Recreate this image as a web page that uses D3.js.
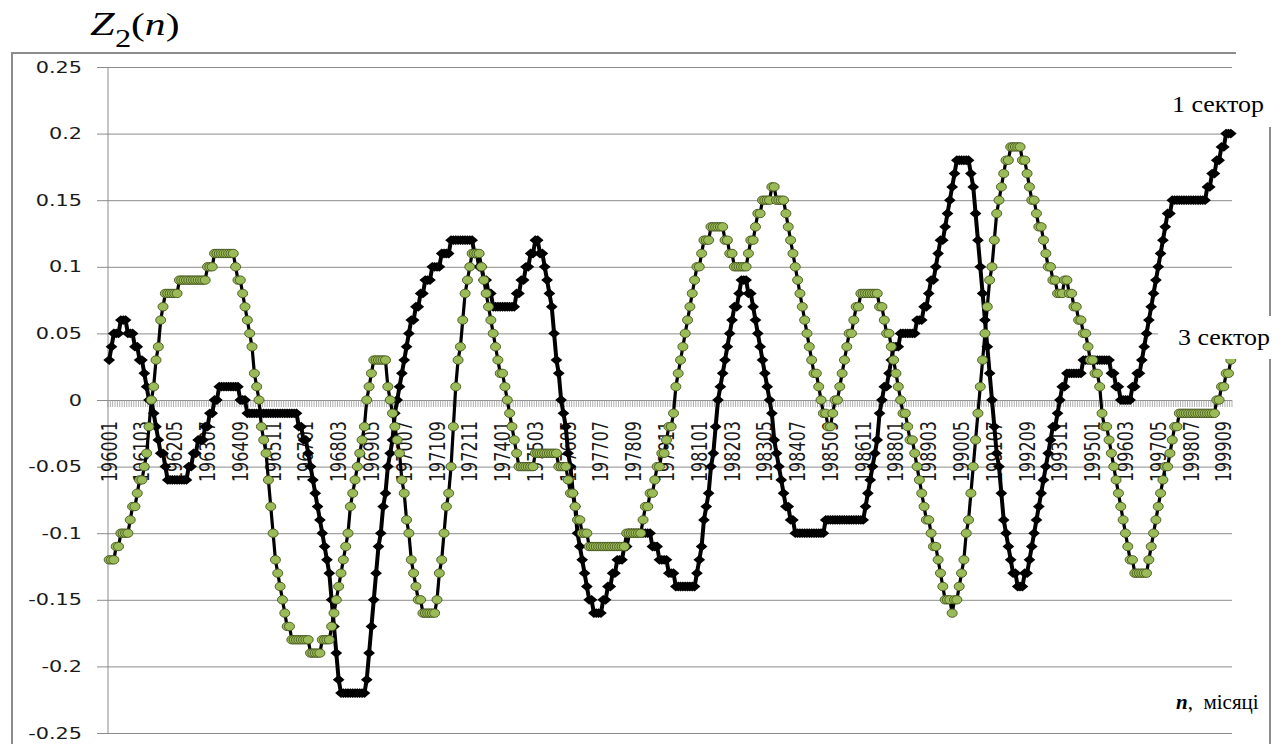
<!DOCTYPE html>
<html>
<head>
<meta charset="utf-8">
<script src="https://cdn.jsdelivr.net/npm/d3@7"></script>
<style>
  body { margin: 0; background: #fff; position: relative; }
  svg { display: block; }
</style>
</head>
<body>
<script>
// monthly categories 196001 .. 199912
const months = [];
for (let yr = 1960; yr <= 1999; yr++)
  for (let m = 1; m <= 12; m++) months.push(String(yr) + (m < 10 ? "0" + m : m));

// every 14th month is labelled
const tickLabels = ["196001", "196103", "196205", "196307", "196409", "196511", "196701",
  "196803", "196905", "197007", "197109", "197211", "197401", "197503", "197605", "197707",
  "197809", "197911", "198101", "198203", "198305", "198407", "198509", "198611", "198801",
  "198903", "199005", "199107", "199209", "199311", "199501", "199603", "199705", "199807", "199909"];

const yTicks = [0.25, 0.2, 0.15, 0.1, 0.05, 0, -0.05, -0.1, -0.15, -0.2, -0.25];

// 1 сектор (black diamonds), one row per year
const sector1 = [
  0.03, 0.04, 0.05, 0.05, 0.05, 0.06, 0.06, 0.06, 0.05, 0.05, 0.05, 0.04,
  0.04, 0.03, 0.03, 0.02, 0.01, 0.00, 0.00, -0.01, -0.02, -0.03, -0.04, -0.04,
  -0.05, -0.06, -0.06, -0.06, -0.06, -0.06, -0.06, -0.06, -0.06, -0.06, -0.05, -0.05,
  -0.04, -0.04, -0.03, -0.03, -0.03, -0.02, -0.02, -0.01, -0.01, 0.00, 0.00, 0.01,
  0.01, 0.01, 0.01, 0.01, 0.01, 0.01, 0.01, 0.01, 0.00, 0.00, 0.00, -0.01,
  -0.01, -0.01, -0.01, -0.01, -0.01, -0.01, -0.01, -0.01, -0.01, -0.01, -0.01, -0.01,
  -0.01, -0.01, -0.01, -0.01, -0.01, -0.01, -0.01, -0.01, -0.01, -0.02, -0.02, -0.03,
  -0.03, -0.04, -0.05, -0.06, -0.07, -0.08, -0.09, -0.10, -0.11, -0.12, -0.13, -0.15,
  -0.17, -0.19, -0.21, -0.22, -0.22, -0.22, -0.22, -0.22, -0.22, -0.22, -0.22, -0.22,
  -0.22, -0.22, -0.21, -0.19, -0.17, -0.15, -0.13, -0.11, -0.10, -0.08, -0.07, -0.05,
  -0.04, -0.03, -0.01, 0.00, 0.01, 0.02, 0.03, 0.04, 0.05, 0.06, 0.06, 0.07,
  0.07, 0.08, 0.08, 0.09, 0.09, 0.09, 0.10, 0.10, 0.10, 0.10, 0.11, 0.11,
  0.11, 0.11, 0.12, 0.12, 0.12, 0.12, 0.12, 0.12, 0.12, 0.12, 0.12, 0.12,
  0.11, 0.11, 0.10, 0.10, 0.09, 0.09, 0.08, 0.08, 0.07, 0.07, 0.07, 0.07,
  0.07, 0.07, 0.07, 0.07, 0.07, 0.07, 0.08, 0.08, 0.09, 0.09, 0.10, 0.10,
  0.11, 0.11, 0.12, 0.12, 0.11, 0.11, 0.10, 0.09, 0.08, 0.07, 0.05, 0.03,
  0.02, 0.00, -0.01, -0.02, -0.04, -0.05, -0.07, -0.08, -0.10, -0.11, -0.12, -0.13,
  -0.14, -0.15, -0.15, -0.16, -0.16, -0.16, -0.16, -0.15, -0.15, -0.14, -0.14, -0.13,
  -0.13, -0.12, -0.12, -0.12, -0.11, -0.11, -0.10, -0.10, -0.10, -0.10, -0.10, -0.10,
  -0.10, -0.10, -0.10, -0.10, -0.11, -0.11, -0.11, -0.12, -0.12, -0.12, -0.12, -0.13,
  -0.13, -0.13, -0.14, -0.14, -0.14, -0.14, -0.14, -0.14, -0.14, -0.14, -0.14, -0.13,
  -0.12, -0.11, -0.09, -0.08, -0.07, -0.05, -0.04, -0.02, 0.00, 0.01, 0.02, 0.03,
  0.04, 0.05, 0.06, 0.07, 0.07, 0.08, 0.09, 0.09, 0.09, 0.08, 0.08, 0.07,
  0.06, 0.05, 0.04, 0.03, 0.02, 0.01, 0.00, -0.01, -0.03, -0.04, -0.05, -0.06,
  -0.07, -0.08, -0.08, -0.09, -0.09, -0.10, -0.10, -0.10, -0.10, -0.10, -0.10, -0.10,
  -0.10, -0.10, -0.10, -0.10, -0.10, -0.10, -0.09, -0.09, -0.09, -0.09, -0.09, -0.09,
  -0.09, -0.09, -0.09, -0.09, -0.09, -0.09, -0.09, -0.09, -0.09, -0.09, -0.09, -0.08,
  -0.07, -0.06, -0.05, -0.04, -0.03, -0.01, 0.00, 0.01, 0.01, 0.02, 0.03, 0.04,
  0.04, 0.04, 0.05, 0.05, 0.05, 0.05, 0.05, 0.05, 0.05, 0.06, 0.06, 0.06,
  0.07, 0.07, 0.08, 0.09, 0.09, 0.10, 0.11, 0.12, 0.12, 0.13, 0.14, 0.15,
  0.16, 0.17, 0.18, 0.18, 0.18, 0.18, 0.18, 0.18, 0.17, 0.16, 0.14, 0.12,
  0.10, 0.08, 0.06, 0.04, 0.02, 0.00, -0.02, -0.04, -0.05, -0.07, -0.09, -0.10,
  -0.11, -0.12, -0.13, -0.13, -0.14, -0.14, -0.14, -0.13, -0.13, -0.12, -0.11, -0.10,
  -0.09, -0.08, -0.07, -0.06, -0.05, -0.04, -0.03, -0.02, -0.02, -0.01, 0.00, 0.01,
  0.01, 0.02, 0.02, 0.02, 0.02, 0.02, 0.02, 0.02, 0.03, 0.03, 0.03, 0.03,
  0.03, 0.03, 0.03, 0.03, 0.03, 0.03, 0.03, 0.03, 0.02, 0.02, 0.01, 0.01,
  0.00, 0.00, 0.00, 0.00, 0.00, 0.01, 0.01, 0.02, 0.02, 0.03, 0.04, 0.05,
  0.06, 0.07, 0.08, 0.09, 0.10, 0.11, 0.12, 0.13, 0.14, 0.14, 0.15, 0.15,
  0.15, 0.15, 0.15, 0.15, 0.15, 0.15, 0.15, 0.15, 0.15, 0.15, 0.15, 0.15,
  0.15, 0.16, 0.16, 0.17, 0.17, 0.18, 0.18, 0.19, 0.19, 0.20, 0.20, 0.20
];

// 3 сектор (green circles), one row per year
const sector3 = [
  -0.12, -0.12, -0.12, -0.11, -0.11, -0.10, -0.10, -0.10, -0.10, -0.09, -0.08, -0.08,
  -0.07, -0.06, -0.06, -0.05, -0.04, -0.02, 0.00, 0.01, 0.03, 0.04, 0.06, 0.07,
  0.08, 0.08, 0.08, 0.08, 0.08, 0.08, 0.09, 0.09, 0.09, 0.09, 0.09, 0.09,
  0.09, 0.09, 0.09, 0.09, 0.09, 0.09, 0.10, 0.10, 0.10, 0.11, 0.11, 0.11,
  0.11, 0.11, 0.11, 0.11, 0.11, 0.11, 0.10, 0.09, 0.09, 0.08, 0.07, 0.06,
  0.05, 0.04, 0.02, 0.01, 0.00, -0.02, -0.03, -0.04, -0.06, -0.08, -0.10, -0.12,
  -0.13, -0.14, -0.15, -0.16, -0.17, -0.17, -0.18, -0.18, -0.18, -0.18, -0.18, -0.18,
  -0.18, -0.18, -0.19, -0.19, -0.19, -0.19, -0.19, -0.18, -0.18, -0.18, -0.18, -0.17,
  -0.16, -0.15, -0.14, -0.13, -0.12, -0.11, -0.10, -0.08, -0.07, -0.06, -0.05, -0.04,
  -0.03, -0.02, 0.00, 0.01, 0.02, 0.03, 0.03, 0.03, 0.03, 0.03, 0.03, 0.01,
  0.00, -0.01, -0.02, -0.03, -0.04, -0.06, -0.07, -0.09, -0.10, -0.12, -0.13, -0.14,
  -0.15, -0.15, -0.16, -0.16, -0.16, -0.16, -0.16, -0.16, -0.15, -0.13, -0.12, -0.10,
  -0.08, -0.07, -0.05, -0.02, 0.01, 0.03, 0.04, 0.06, 0.08, 0.09, 0.10, 0.11,
  0.11, 0.11, 0.11, 0.10, 0.09, 0.08, 0.07, 0.06, 0.05, 0.04, 0.03, 0.02,
  0.02, 0.01, 0.00, -0.01, -0.02, -0.03, -0.04, -0.05, -0.05, -0.05, -0.05, -0.05,
  -0.05, -0.05, -0.04, -0.04, -0.04, -0.04, -0.04, -0.04, -0.04, -0.04, -0.04, -0.04,
  -0.05, -0.05, -0.05, -0.05, -0.06, -0.07, -0.07, -0.08, -0.09, -0.09, -0.10, -0.10,
  -0.10, -0.11, -0.11, -0.11, -0.11, -0.11, -0.11, -0.11, -0.11, -0.11, -0.11, -0.11,
  -0.11, -0.11, -0.11, -0.11, -0.11, -0.10, -0.10, -0.10, -0.10, -0.10, -0.10, -0.10,
  -0.09, -0.08, -0.08, -0.07, -0.07, -0.06, -0.05, -0.05, -0.04, -0.04, -0.03, -0.02,
  -0.02, -0.01, 0.01, 0.02, 0.03, 0.04, 0.05, 0.06, 0.07, 0.08, 0.09, 0.10,
  0.10, 0.11, 0.12, 0.12, 0.12, 0.13, 0.13, 0.13, 0.13, 0.13, 0.13, 0.12,
  0.12, 0.11, 0.11, 0.10, 0.10, 0.10, 0.10, 0.10, 0.10, 0.11, 0.12, 0.12,
  0.13, 0.14, 0.14, 0.15, 0.15, 0.15, 0.15, 0.16, 0.16, 0.15, 0.15, 0.15,
  0.15, 0.14, 0.13, 0.12, 0.11, 0.10, 0.09, 0.08, 0.07, 0.06, 0.05, 0.04,
  0.03, 0.02, 0.02, 0.01, 0.00, -0.01, -0.01, -0.02, -0.02, -0.01, 0.00, 0.00,
  0.01, 0.02, 0.03, 0.04, 0.05, 0.05, 0.06, 0.07, 0.07, 0.08, 0.08, 0.08,
  0.08, 0.08, 0.08, 0.08, 0.08, 0.07, 0.07, 0.06, 0.05, 0.05, 0.04, 0.03,
  0.02, 0.01, 0.00, -0.01, -0.01, -0.02, -0.03, -0.03, -0.04, -0.05, -0.06, -0.07,
  -0.08, -0.09, -0.09, -0.10, -0.11, -0.11, -0.12, -0.13, -0.14, -0.15, -0.15, -0.15,
  -0.16, -0.15, -0.15, -0.14, -0.13, -0.12, -0.10, -0.09, -0.07, -0.05, -0.03, -0.01,
  0.01, 0.03, 0.05, 0.07, 0.09, 0.10, 0.12, 0.14, 0.15, 0.16, 0.17, 0.18,
  0.18, 0.19, 0.19, 0.19, 0.19, 0.19, 0.18, 0.18, 0.17, 0.16, 0.15, 0.15,
  0.14, 0.13, 0.13, 0.12, 0.11, 0.10, 0.10, 0.09, 0.09, 0.08, 0.08, 0.08,
  0.09, 0.09, 0.08, 0.08, 0.07, 0.07, 0.06, 0.06, 0.05, 0.05, 0.04, 0.03,
  0.03, 0.02, 0.02, 0.01, -0.01, -0.02, -0.02, -0.03, -0.04, -0.05, -0.06, -0.07,
  -0.08, -0.09, -0.10, -0.11, -0.12, -0.12, -0.13, -0.13, -0.13, -0.13, -0.13, -0.13,
  -0.12, -0.11, -0.10, -0.09, -0.08, -0.07, -0.06, -0.05, -0.05, -0.04, -0.03, -0.02,
  -0.02, -0.01, -0.01, -0.01, -0.01, -0.01, -0.01, -0.01, -0.01, -0.01, -0.01, -0.01,
  -0.01, -0.01, -0.01, -0.01, -0.01, 0.00, 0.00, 0.01, 0.01, 0.02, 0.02, 0.03
];

// layout
const plotLeft = 108, plotRight = 1232, plotTop = 67, plotBottom = 733;
const gridColor = "#8c8c8c";

const svg = d3.select("body").append("svg")
    .attr("width", 1286)
    .attr("height", 744);

const x = d3.scaleBand().domain(months).range([plotLeft, plotRight]);
const y = d3.scaleLinear().domain([-0.25, 0.25]).range([plotBottom, plotTop]);
const xc = m => x(m) + x.bandwidth() / 2;

// chart frame
svg.append("rect")
    .attr("x", 12).attr("y", 53)
    .attr("width", 1258).attr("height", 740)
    .attr("fill", "none")
    .attr("stroke", gridColor)
    .attr("stroke-width", 2);

// horizontal gridlines with the value labels
const yAxis = svg.append("g")
    .attr("transform", "translate(97,0)")
    .call(d3.axisLeft(y)
        .tickValues(yTicks)
        .tickSize(-(plotRight - 97))
        .tickPadding(11.5)
        .tickFormat(d => String(+d.toFixed(2))));
yAxis.select(".domain").remove();
yAxis.selectAll(".tick line").attr("stroke", gridColor);
yAxis.selectAll(".tick text")
    .attr("font-family", "DejaVu Sans")
    .attr("font-size", 16)
    .attr("fill", "#1a1a1a")
    .attr("transform", "scale(1.3,1)");

// vertical axis line
svg.append("line")
    .attr("x1", plotLeft).attr("x2", plotLeft)
    .attr("y1", plotTop).attr("y2", plotBottom)
    .attr("stroke", gridColor);

// category tick marks on the zero line
const bounds = months.map(m => x(m)).concat([plotRight]);
svg.append("g").selectAll("line")
    .data(bounds)
    .join("line")
    .attr("x1", d => d).attr("x2", d => d)
    .attr("y1", y(0)).attr("y2", y(0) + 7)
    .attr("stroke", "#9a9a9a")
    .attr("stroke-width", 0.8);

// rotated month labels
svg.append("g").selectAll("text")
    .data(tickLabels)
    .join("text")
    .attr("transform", d => `translate(${xc(d)},${y(0) + 21}) scale(1.3,1) rotate(-90)`)
    .attr("text-anchor", "end")
    .attr("dy", "0.36em")
    .attr("font-family", "DejaVu Sans")
    .attr("font-size", 16)
    .attr("fill", "#1a1a1a")
    .text(d => d);

const line = d3.line()
    .x((d, i) => xc(months[i]))
    .y(d => y(d));

// 1 сектор
svg.append("path")
    .datum(sector1)
    .attr("d", line)
    .attr("fill", "none")
    .attr("stroke", "#000")
    .attr("stroke-width", 4);

svg.append("g").selectAll("path")
    .data(sector1)
    .join("path")
    .attr("d", d3.symbol(d3.symbolSquare, 48))
    .attr("transform", (d, i) => `translate(${xc(months[i])},${y(d)}) scale(1.2,1) rotate(45)`)
    .attr("fill", "#000");

// 3 сектор
svg.append("path")
    .datum(sector3)
    .attr("d", line)
    .attr("fill", "none")
    .attr("stroke", "#000")
    .attr("stroke-width", 3.2);

svg.append("g").selectAll("ellipse")
    .data(sector3)
    .join("ellipse")
    .attr("cx", (d, i) => xc(months[i]))
    .attr("cy", d => y(d))
    .attr("rx", 5)
    .attr("ry", 4.2)
    .attr("fill", "#9bbb59")
    .attr("stroke", "#46561e")
    .attr("stroke-width", 0.9);

// label boxes
svg.append("rect")
    .attr("x", 1236).attr("y", 45).attr("width", 50).attr("height", 82)
    .attr("fill", "#fff");
svg.append("rect")
    .attr("x", 1158).attr("y", 316).attr("width", 128).attr("height", 43)
    .attr("fill", "#fff");

// serif labels as html text; top = baseline - 0.8375 * font size
function label(left, baseline, size, html, stretch) {
  d3.select("body").append("div")
      .style("position", "absolute")
      .style("font-family", '"Liberation Serif", "Tinos", "FreeSerif", serif')
      .style("line-height", "1")
      .style("white-space", "pre")
      .style("color", "#000")
      .style("transform-origin", "0 0")
      .style("left", left + "px")
      .style("top", (baseline - 0.8375 * size) + "px")
      .style("font-size", size + "px")
      .style("transform", `scaleX(${stretch})`)
      .html(html);
}

label(1172, 112, 24, "1 сектор", 1.08);
label(1178, 345, 24, "3 сектор", 1.08);
label(1176, 710, 21, "<b><i>n</i></b>,  місяці", 1.0);

// title Z2(n)
label(90, 35, 34, "<i>Z</i>", 1.3);
label(115, 47, 25, "2", 1.3);
label(131, 35, 32, "(<i>n</i>)", 1.3);
</script>
</body>
</html>
